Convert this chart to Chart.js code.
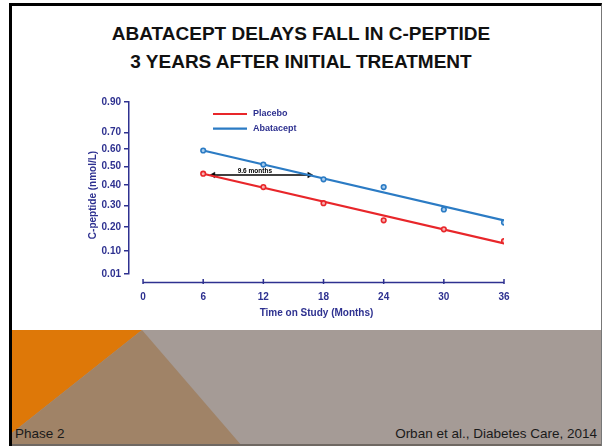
<!DOCTYPE html>
<html>
<head>
<meta charset="utf-8">
<script src="https://cdn.jsdelivr.net/npm/chart.js@4.4.0/dist/chart.umd.min.js"></script>
<style>
html, body { margin: 0; padding: 0; background: #fff; }
#slide { position: relative; width: 602px; height: 446px; overflow: hidden; background: #fff; font-family: "Liberation Sans", Arial, sans-serif; }
#frame { position: absolute; left: 9px; top: 3px; width: 589px; height: 443px; border-left: 3px solid #000; border-top: 3px solid #000; border-right: 1px solid #777; }
#title { position: absolute; left: 0; top: 20px; width: 602px; text-align: center; font-size: 19px; line-height: 28px; font-weight: bold; color: #111; }
#band { position: absolute; left: 12px; top: 330px; }
.foot { position: absolute; top: 426px; font-size: 13.5px; line-height: 16px; color: #1a1a1a; }
#chart-wrap { position: absolute; left: 0; top: 90px; width: 602px; height: 240px; }
</style>
</head>
<body>
<div id="slide">
  <svg id="band" width="590" height="116" viewBox="0 0 590 116">
    <rect x="0" y="0" width="590" height="116" fill="#a59b96"/>
    <polygon points="0,0 130,0 0,103" fill="#de7808"/>
    <polygon points="130,0 0,103 0,116 230,116" fill="#a08367"/>
    <rect x="0" y="114" width="590" height="2" fill="#6f6862"/>
  </svg>
  <div id="frame"></div>
  <div id="title">ABATACEPT DELAYS FALL IN C-PEPTIDE<br>3 YEARS AFTER INITIAL TREATMENT</div>
  <div class="foot" style="left:15px;">Phase 2</div>
  <div class="foot" style="right:5px;">Orban et al., Diabetes Care, 2014</div>
  <div id="chart-wrap"><canvas id="chart" width="602" height="240"></canvas></div>
</div>
<script>
// C-peptide (nmol/L)
const months = [6, 12, 18, 24, 30, 36];
const placebo = [0.46, 0.39, 0.31, 0.23, 0.19, 0.14];
const abatacept = [0.59, 0.51, 0.43, 0.39, 0.28, 0.22];

// fitted lines (start / end)
const fitMonths = [6, 36];
const placeboFit = [0.46, 0.13];
const abataceptFit = [0.59, 0.23];

// delay arrow
const arrowMonths = [7.0, 16.6];
const arrowLevel = 0.453;
const arrowLabel = '9.6 months';

const xTicks = [0, 6, 12, 18, 24, 30, 36];
const yTicks = [0.90, 0.70, 0.60, 0.50, 0.40, 0.30, 0.20, 0.10, 0.01];

const NAVY = '#2e3190';
const RED = '#e8262a';
const BLUE = '#2b7bc4';

// the axis is log(C-peptide + 1)
const tf = v => Math.log10(v + 1);

function points(xs, ys) {
    return xs.map((m, i) => ({ x: m, y: tf(ys[i]) }));
}

const slidePlugin = {
    id: 'slideExtras',
    afterDraw(chart) {
        const ctx = chart.ctx;
        const xs = chart.scales.x;
        const ys = chart.scales.y;
        const area = chart.chartArea;
        ctx.save();

        // x axis, drawn a little below the plot
        const axY = area.bottom + 8.5;
        ctx.strokeStyle = NAVY;
        ctx.lineWidth = 1.5;
        ctx.beginPath();
        ctx.moveTo(xs.getPixelForValue(xTicks[0]), axY);
        ctx.lineTo(xs.getPixelForValue(xTicks[xTicks.length - 1]), axY);
        xTicks.forEach(t => {
            const px = xs.getPixelForValue(t);
            ctx.moveTo(px, axY - 3.5);
            ctx.lineTo(px, axY + 1.5);
        });
        ctx.stroke();

        // legend
        const legendItems = [
            { text: chart.data.datasets[2].label, color: RED },
            { text: chart.data.datasets[3].label, color: BLUE }
        ];
        ctx.font = 'bold 9px "Liberation Sans", Arial, sans-serif';
        ctx.textBaseline = 'middle';
        ctx.textAlign = 'left';
        legendItems.forEach((it, i) => {
            const ly = area.top + 12 + i * 14.7;
            ctx.strokeStyle = it.color;
            ctx.lineWidth = 2.2;
            ctx.beginPath();
            ctx.moveTo(213, ly);
            ctx.lineTo(247, ly);
            ctx.stroke();
            ctx.fillStyle = NAVY;
            ctx.fillText(it.text, 253, ly);
        });

        // arrow label
        ctx.fillStyle = '#000';
        ctx.font = 'bold 6.5px "Liberation Sans", Arial, sans-serif';
        ctx.textAlign = 'center';
        ctx.textBaseline = 'alphabetic';
        ctx.fillText(arrowLabel, xs.getPixelForValue(11.15), ys.getPixelForValue(tf(arrowLevel)) - 2.5);

        // y axis title
        ctx.translate(93, 105);
        ctx.rotate(-Math.PI / 2);
        ctx.fillStyle = NAVY;
        ctx.font = 'bold 10px "Liberation Sans", Arial, sans-serif';
        ctx.textBaseline = 'middle';
        ctx.fillText('C-peptide (nmol/L)', 0, 0);
        ctx.restore();
    }
};

const ctx = document.getElementById('chart').getContext('2d');
new Chart(ctx, {
    type: 'scatter',
    data: {
        datasets: [
            {
                label: 'Placebo points',
                data: points(months, placebo),
                showLine: false,
                pointRadius: 2.3,
                pointBorderWidth: 1.6,
                pointBorderColor: RED,
                pointBackgroundColor: '#f7b0b0'
            },
            {
                label: 'Abatacept points',
                data: points(months, abatacept),
                showLine: false,
                pointRadius: 2.3,
                pointBorderWidth: 1.6,
                pointBorderColor: BLUE,
                pointBackgroundColor: '#a9cdee'
            },
            {
                label: 'Placebo',
                data: points(fitMonths, placeboFit),
                showLine: true,
                borderColor: RED,
                borderWidth: 2.2,
                pointRadius: 0
            },
            {
                label: 'Abatacept',
                data: points(fitMonths, abataceptFit),
                showLine: true,
                borderColor: BLUE,
                borderWidth: 2.2,
                pointRadius: 0
            },
            {
                label: 'delay',
                data: arrowMonths.map(m => ({ x: m, y: tf(arrowLevel) })),
                showLine: true,
                borderColor: '#000',
                borderWidth: 1.3,
                pointStyle: 'triangle',
                pointRotation: [-90, 90],
                pointRadius: 3.3,
                pointBorderWidth: 0.5,
                pointBorderColor: '#000',
                pointBackgroundColor: '#000'
            }
        ]
    },
    options: {
        responsive: false,
        animation: false,
        layout: { padding: { left: 0, top: 12, right: 98, bottom: 0 } },
        plugins: {
            legend: { display: false },
            tooltip: { enabled: false }
        },
        scales: {
            x: {
                type: 'linear',
                min: -1.4,
                max: 36,
                afterBuildTicks: s => { s.ticks = xTicks.map(v => ({ value: v })); },
                afterFit: s => { s.height = 56; },
                grid: { display: false, drawTicks: false },
                border: { display: false },
                ticks: {
                    color: NAVY,
                    font: { size: 10, weight: 'bold', family: '"Liberation Sans", Arial, sans-serif' },
                    padding: 17,
                    maxRotation: 0,
                    autoSkip: false
                },
                title: {
                    display: true,
                    text: 'Time on Study (Months)',
                    color: NAVY,
                    font: { size: 10, weight: 'bold', family: '"Liberation Sans", Arial, sans-serif' },
                    padding: { top: 0, bottom: 11 }
                }
            },
            y: {
                type: 'linear',
                min: tf(0.01),
                max: tf(0.90),
                afterBuildTicks: s => { s.ticks = yTicks.map(v => ({ value: tf(v) })); },
                afterFit: s => { s.width = 129; },
                grid: {
                    display: true,
                    drawOnChartArea: false,
                    drawTicks: true,
                    tickLength: 5,
                    color: NAVY,
                    lineWidth: 1.5
                },
                border: { display: true, color: NAVY, width: 1.5 },
                ticks: {
                    color: NAVY,
                    font: { size: 10, weight: 'bold', family: '"Liberation Sans", Arial, sans-serif' },
                    padding: 3,
                    autoSkip: false,
                    callback: (val, i) => yTicks[i].toFixed(2)
                }
            }
        }
    },
    plugins: [slidePlugin]
});
</script>
</body>
</html>
